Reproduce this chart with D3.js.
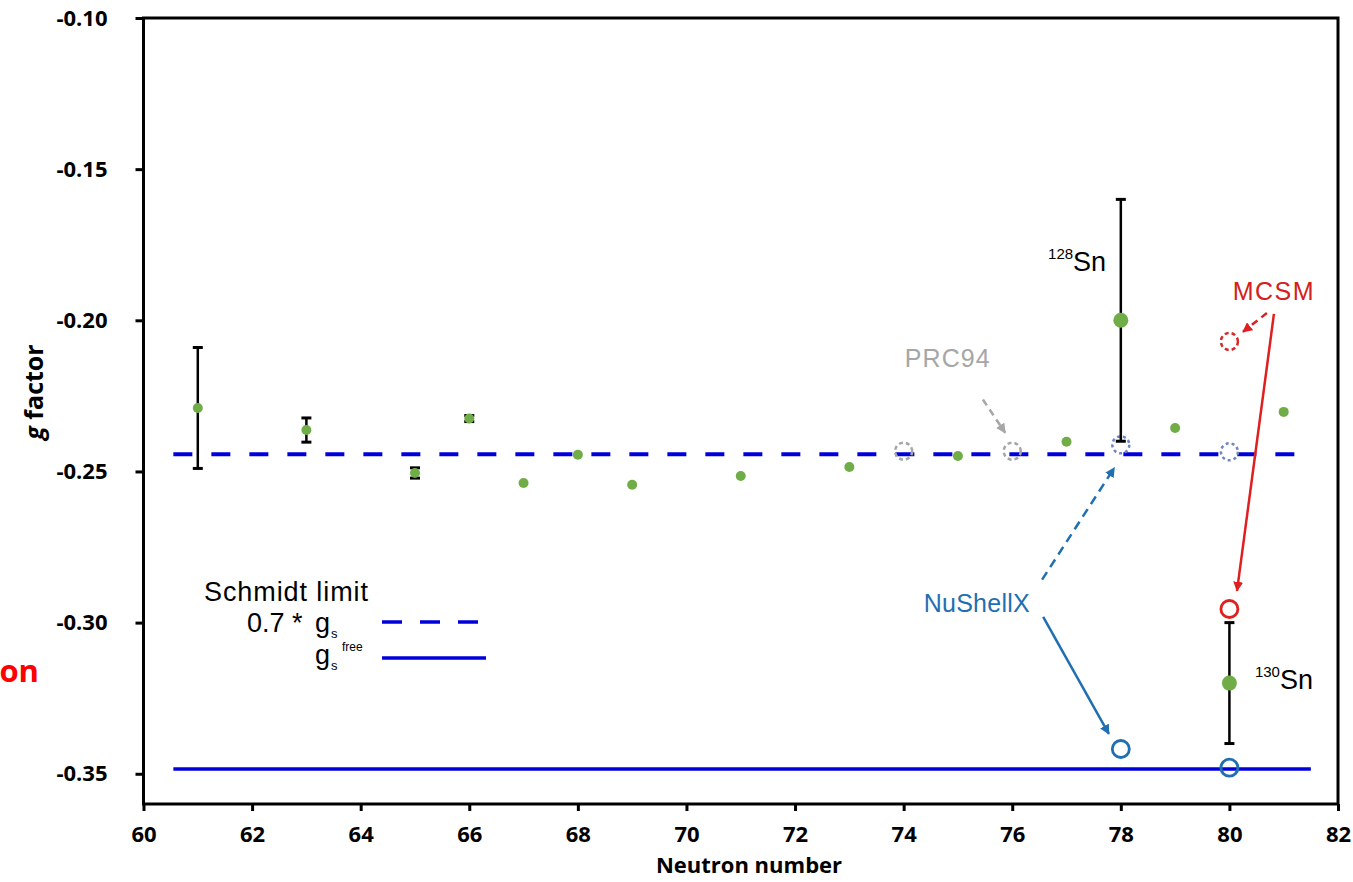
<!DOCTYPE html>
<html>
<head>
<meta charset="utf-8">
<script src="https://cdn.jsdelivr.net/npm/d3@7"></script>
<style>
  body { margin: 0; background: #fff; }
  .tick text { font-family: "Open Sans", sans-serif; font-weight: bold; font-size: 22px; fill: #000; }
  .note { font-family: "Liberation Sans", Arial, sans-serif; }
</style>
</head>
<body>
<div id="chart"></div>
<script>
// measured g factors (neutron number, value, error)
var neutrons = [61, 63, 65, 66, 67, 68, 69, 71, 73, 75, 77, 78, 79, 80, 81];
var gValues  = [-0.229, -0.2363, -0.2505, -0.2325, -0.2538, -0.2445, -0.2544, -0.2515, -0.2485, -0.2449, -0.2402, -0.200, -0.2356, -0.320, -0.2303];
var gErrors  = [0.020, 0.004, 0.0017, 0.001, 0, 0, 0, 0, 0, 0, 0, 0.040, 0, 0.020, 0];
var bigPoints = [78, 80];

// theory points
var prcN = [74, 76], prcG = [-0.2433, -0.2433];
var nuDashN = [78, 80], nuDashG = [-0.2412, -0.2435];
var mcsmDashN = [80], mcsmDashG = [-0.207];
var nuN = [78, 80], nuG = [-0.3418, -0.348];
var mcsmN = [80], mcsmG = [-0.2955];

// Schmidt lines
var schmidt07 = -0.2443;
var schmidtFree = -0.3484;
var lineSpan = [60.55, 81.5];

var xTicks = d3.range(60, 83, 2);
var yTicks = [-0.10, -0.15, -0.20, -0.25, -0.30, -0.35];

var svg = d3.select("#chart").append("svg").attr("width", 1353).attr("height", 882);

var x = d3.scaleLinear().domain([60, 82]).range([143.5, 1338]);
var y = d3.scaleLinear().domain([-0.10, -0.36]).range([18, 804]);

// arrow heads
var defs = svg.append("defs");
function marker(id, color) {
  defs.append("marker").attr("id", id)
    .attr("viewBox", "0 0 10 10").attr("refX", 9).attr("refY", 5)
    .attr("markerWidth", 4).attr("markerHeight", 4).attr("orient", "auto")
    .append("path").attr("d", "M0,0 L10,5 L0,10 z").attr("fill", color);
}
marker("arGray", "#a6a6a6");
marker("arRed", "#e02020");
marker("arBlue", "#1f6fb2");

// frame
svg.append("rect").attr("x", x(60)).attr("y", y(-0.10))
  .attr("width", x(82) - x(60)).attr("height", y(-0.36) - y(-0.10))
  .attr("fill", "none").attr("stroke", "#000").attr("stroke-width", 3);

svg.append("g").attr("transform", "translate(0," + y(-0.36) + ")")
  .call(d3.axisBottom(x).tickValues(xTicks).tickSize(7).tickPadding(15).tickFormat(d3.format("d")))
  .call(function(g){ g.select(".domain").remove(); g.selectAll("line").attr("stroke-width", 3); });

svg.append("g").attr("transform", "translate(" + x(60) + ",0)")
  .call(d3.axisLeft(y).tickValues(yTicks).tickSize(8).tickPadding(28)
    .tickFormat(function(d){ return d.toFixed(2); }))
  .call(function(g){ g.select(".domain").remove(); g.selectAll("line").attr("stroke-width", 3); });

// axis labels
svg.append("text").attr("x", 749).attr("y", 873).attr("text-anchor", "middle")
  .attr("font-family", "Open Sans, sans-serif").attr("font-weight", "bold").attr("font-size", 22)
  .text("Neutron number");

var yl = svg.append("text").attr("transform", "translate(43,392) rotate(-90)").attr("text-anchor", "middle")
  .attr("font-family", "Open Sans, sans-serif").attr("font-weight", "bold").attr("font-size", 25);
yl.append("tspan").attr("font-style", "italic").text("g");
yl.append("tspan").text(" factor");

// cut off red text at left
svg.append("text").attr("x", 39).attr("y", 682).attr("text-anchor", "end")
  .attr("font-family", "Open Sans, sans-serif").attr("font-weight", "bold").attr("font-size", 31)
  .attr("fill", "#ff0000").text("on");

// Schmidt lines
svg.append("line").attr("x1", x(lineSpan[0])).attr("x2", x(lineSpan[1]))
  .attr("y1", y(schmidt07)).attr("y2", y(schmidt07))
  .attr("stroke", "#0000dc").attr("stroke-width", 4).attr("stroke-dasharray", "19,19");
svg.append("line").attr("x1", x(lineSpan[0])).attr("x2", x(lineSpan[1]))
  .attr("y1", y(schmidtFree)).attr("y2", y(schmidtFree))
  .attr("stroke", "#0000dc").attr("stroke-width", 3.5);

// legend
var lg = svg.append("g").attr("class", "note").attr("font-size", 27);
lg.append("text").attr("x", 204).attr("y", 601).attr("textLength", 164).text("Schmidt limit");
lg.append("text").attr("x", 247).attr("y", 632).text("0.7 *");
lg.append("text").attr("x", 315).attr("y", 632).text("g");
lg.append("text").attr("x", 331).attr("y", 638).attr("font-size", 13).text("s");
lg.append("text").attr("x", 342).attr("y", 651).attr("font-size", 12).text("free");
lg.append("text").attr("x", 315).attr("y", 664).text("g");
lg.append("text").attr("x", 331).attr("y", 670).attr("font-size", 13).text("s");
lg.append("line").attr("x1", 382).attr("x2", 486).attr("y1", 622).attr("y2", 622)
  .attr("stroke", "#0000dc").attr("stroke-width", 3.5).attr("stroke-dasharray", "20,18");
lg.append("line").attr("x1", 382).attr("x2", 486).attr("y1", 658).attr("y2", 658)
  .attr("stroke", "#0000dc").attr("stroke-width", 3.5);

// dashed theory circles
function circles(ns, gs, color, dash, sw) {
  svg.append("g").selectAll("circle").data(ns).enter().append("circle")
    .attr("cx", function(d){ return x(d); })
    .attr("cy", function(d, i){ return y(gs[i]); })
    .attr("r", 8.5).attr("fill", "none").attr("stroke", color)
    .attr("stroke-width", sw).attr("stroke-dasharray", dash);
}
circles(prcN, prcG, "#a6a6a6", "4,3", 2.5);
circles(nuDashN, nuDashG, "#6f86c0", "3,3", 2.5);
circles(mcsmDashN, mcsmDashG, "#d42a2a", "4,3", 2.5);

// error bars
var pts = neutrons.map(function(n, i){ return {n: n, g: gValues[i], e: gErrors[i]}; });
var eb = svg.append("g").selectAll("g").data(pts.filter(function(d){ return d.e > 0; })).enter().append("g");
eb.append("line").attr("x1", function(d){ return x(d.n); }).attr("x2", function(d){ return x(d.n); })
  .attr("y1", function(d){ return y(d.g + d.e); }).attr("y2", function(d){ return y(d.g - d.e); })
  .attr("stroke", "#000").attr("stroke-width", 2.5);
[1, -1].forEach(function(s){
  eb.append("line").attr("x1", function(d){ return x(d.n) - 5; }).attr("x2", function(d){ return x(d.n) + 5; })
    .attr("y1", function(d){ return y(d.g + s * d.e); }).attr("y2", function(d){ return y(d.g + s * d.e); })
    .attr("stroke", "#000").attr("stroke-width", 3);
});

// measured points
svg.append("g").selectAll("circle").data(pts).enter().append("circle")
  .attr("cx", function(d){ return x(d.n); }).attr("cy", function(d){ return y(d.g); })
  .attr("r", function(d){ return bigPoints.indexOf(d.n) >= 0 ? 7.5 : 5; })
  .attr("fill", "#70ad47");

// solid theory circles
circles(nuN, nuG, "#1f6fb2", null, 2.8);
circles(mcsmN, mcsmG, "#e02020", null, 2.8);

// annotations (positions in data units)
function arrow(p, color, dash, mk) {
  svg.append("line").attr("x1", x(p[0])).attr("y1", y(p[1])).attr("x2", x(p[2])).attr("y2", y(p[3]))
    .attr("stroke", color).attr("stroke-width", 2.5).attr("stroke-dasharray", dash)
    .attr("marker-end", "url(#" + mk + ")");
}
arrow([75.46, -0.2262, 75.87, -0.2372], "#a6a6a6", "7,5", "arGray");
arrow([80.69, -0.1976, 80.25, -0.2038], "#e02020", "7,5", "arRed");
arrow([80.82, -0.1979, 80.14, -0.2895], "#e02020", null, "arRed");
arrow([76.55, -0.2858, 77.88, -0.2488], "#1f6fb2", "9,6", "arBlue");
arrow([76.57, -0.2981, 77.78, -0.3368], "#1f6fb2", null, "arBlue");

function note(n, g, color, len, txt) {
  svg.append("text").attr("class", "note").attr("x", x(n)).attr("y", y(g))
    .attr("font-size", 25).attr("fill", color).attr("textLength", len).text(txt);
}
note(74.02, -0.2154, "#a6a6a6", 85, "PRC94");
note(80.06, -0.1933, "#d42020", 81, "MCSM");
note(74.37, -0.2964, "#1f6fb2", 106, "NuShellX");

function isotope(n, g, mass) {
  var t = svg.append("text").attr("class", "note").attr("x", x(n)).attr("y", y(g)).attr("fill", "#000");
  t.append("tspan").attr("font-size", 15).attr("dy", -12).text(mass);
  t.append("tspan").attr("font-size", 27).attr("dy", 12).text("Sn");
}
isotope(76.66, -0.1838, "128");
isotope(80.47, -0.3220, "130");
</script>
</body>
</html>
